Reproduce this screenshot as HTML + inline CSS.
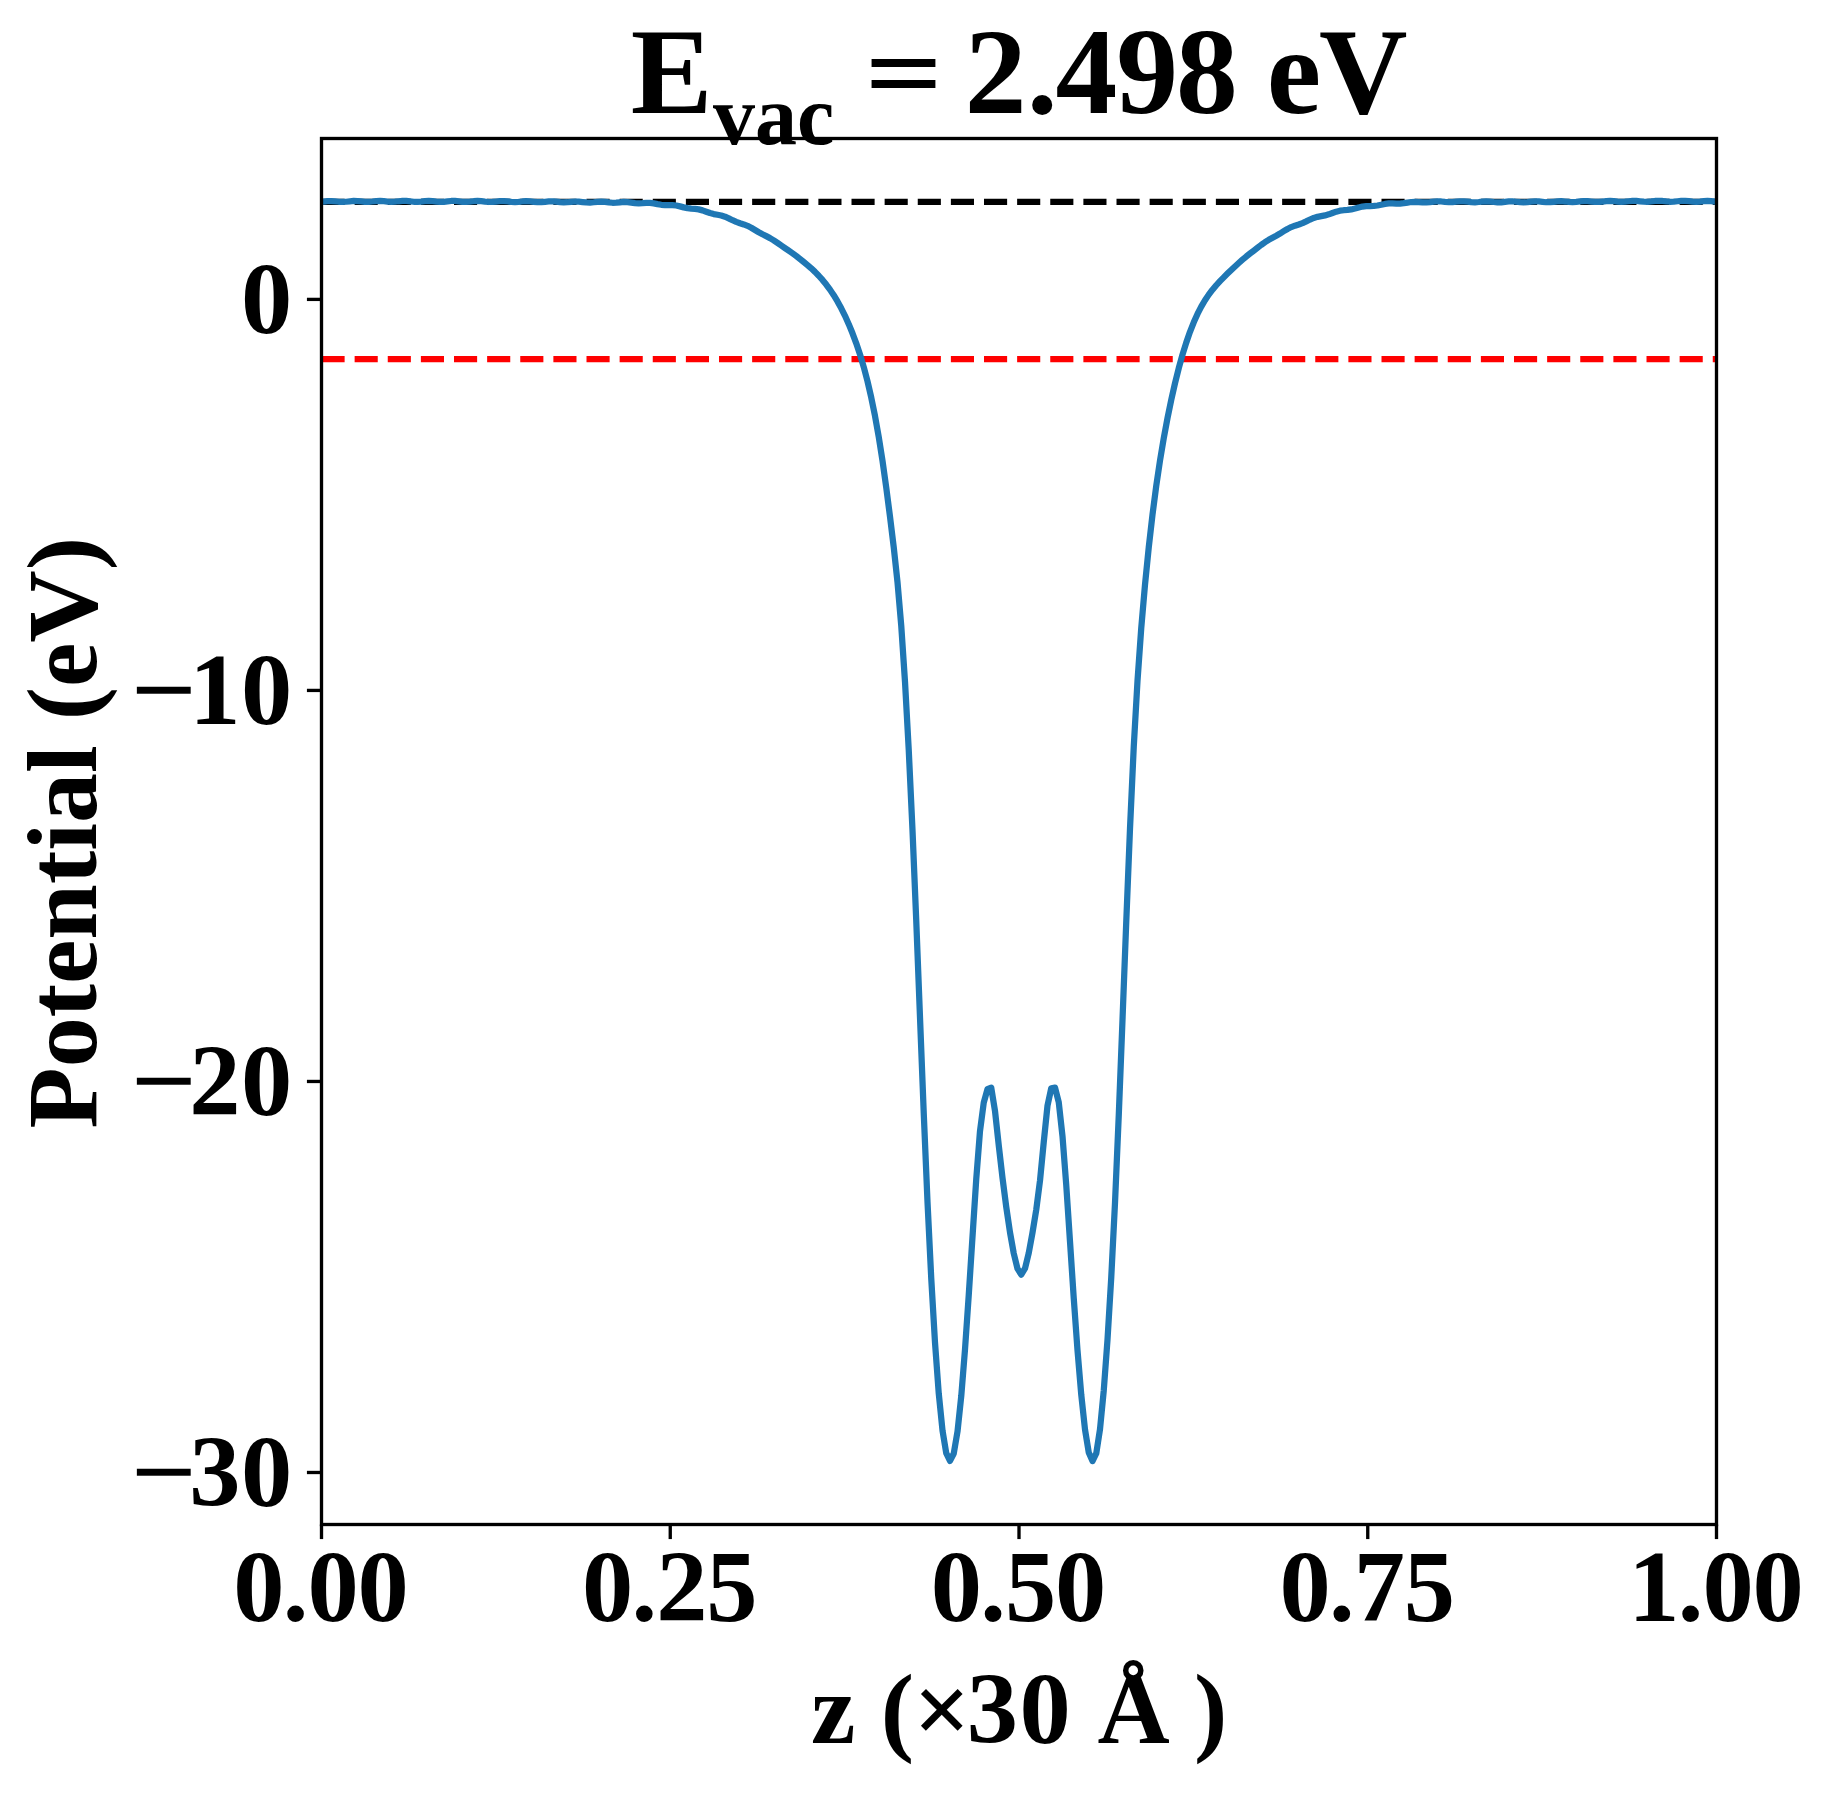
<!DOCTYPE html>
<html lang="en">
<head>
<meta charset="utf-8">
<title>Planar-averaged potential</title>
<style>
html,body{margin:0;padding:0;background:#fff;}
body{width:1833px;height:1794px;overflow:hidden;}
svg{display:block;}
text{font-family:"Liberation Serif", "DejaVu Serif", serif;font-weight:bold;fill:#000;}
</style>
</head>
<body>
<svg width="1833" height="1794" viewBox="0 0 1833 1794">
<rect x="0" y="0" width="1833" height="1794" fill="#ffffff"/>
<defs><clipPath id="ax"><rect x="321.5" y="138.5" width="1395.0" height="1386.0"/></clipPath></defs>

<g clip-path="url(#ax)" fill="none">
<line x1="321.5" y1="201.9" x2="1716.5" y2="201.9" stroke="#000" stroke-width="6.25" stroke-dasharray="23.125 10"/>
<line x1="321.5" y1="359.0" x2="1716.5" y2="359.0" stroke="#ff0000" stroke-width="6.25" stroke-dasharray="23.125 10"/>
<path d="M320.00 201.98 L323.75 201.59 L327.50 201.14 L331.25 201.02 L335.00 201.31 L338.75 201.76 L342.50 201.97 L346.25 201.75 L350.00 201.29 L353.75 200.96 L357.50 201.03 L361.25 201.44 L365.00 201.83 L368.75 201.87 L372.50 201.51 L376.25 201.05 L380.00 200.89 L383.75 201.15 L387.50 201.61 L391.25 201.87 L395.00 201.72 L398.75 201.27 L402.50 200.91 L406.25 200.95 L410.00 201.34 L413.75 201.76 L417.50 201.86 L421.25 201.54 L425.00 201.09 L428.75 200.89 L432.50 201.11 L436.25 201.57 L440.00 201.89 L443.75 201.79 L447.50 201.37 L451.25 200.99 L455.00 200.98 L458.75 201.35 L462.50 201.80 L466.25 201.95 L470.00 201.69 L473.75 201.24 L477.50 200.99 L481.25 201.18 L485.00 201.64 L488.75 202.00 L492.50 201.96 L496.25 201.57 L500.00 201.17 L503.75 201.11 L507.50 201.46 L511.25 201.93 L515.00 202.14 L518.75 201.92 L522.50 201.48 L526.25 201.21 L530.00 201.34 L533.75 201.80 L537.50 202.20 L541.25 202.22 L545.00 201.86 L548.75 201.45 L552.50 201.35 L556.25 201.66 L560.00 202.14 L563.75 202.41 L567.50 202.24 L571.25 201.82 L575.00 201.51 L578.75 201.60 L582.50 202.04 L586.25 202.47 L590.00 202.55 L593.75 202.24 L597.50 201.82 L601.25 201.67 L605.00 201.95 L608.75 202.44 L612.50 202.76 L616.25 202.67 L620.00 202.29 L623.75 201.99 L627.50 202.08 L631.25 202.57 L635.00 203.12 L638.75 203.37 L642.50 203.23 L646.25 202.96 L650.00 202.95 L653.75 203.40 L657.50 204.14 L661.25 204.78 L665.00 205.05 L668.75 205.02 L672.50 205.06 L676.25 205.50 L680.00 206.37 L683.75 207.39 L687.50 208.17 L691.25 208.59 L695.00 208.86 L698.75 209.38 L702.50 210.38 L706.25 211.73 L710.00 213.06 L713.75 214.07 L717.50 214.78 L721.25 215.54 L725.00 216.70 L728.75 218.35 L732.50 220.21 L736.25 221.90 L740.00 223.24 L743.75 224.42 L747.50 225.84 L751.25 227.76 L755.00 230.03 L758.75 232.29 L762.50 234.32 L766.25 236.17 L770.00 238.10 L773.75 240.33 L777.50 242.86 L781.25 245.53 L785.00 248.14 L788.75 250.68 L792.50 253.27 L796.25 256.02 L800.00 258.94 L803.75 261.96 L807.50 265.06 L811.25 268.35 L815.00 271.89 L818.75 275.72 L822.50 279.92 L826.25 284.53 L830.00 289.61 L833.75 295.23 L837.50 301.43 L841.25 308.29 L845.00 315.84 L848.75 324.16 L852.50 333.29 L856.25 343.32 L860.00 354.48 L863.75 367.04 L867.50 381.29 L871.25 397.51 L875.00 415.98 L878.75 436.98 L882.50 460.80 L886.25 487.56 L890.00 516.62 L893.75 547.30 L897.50 582.10 L901.25 625.73 L905.00 681.78 L908.75 750.20 L912.50 830.25 L916.25 920.89 L920.00 1017.48 L923.75 1113.34 L927.50 1201.79 L931.25 1278.48 L935.00 1342.55 L938.75 1393.42 L942.50 1430.50 L946.25 1453.21 L950.00 1460.96 L953.75 1453.50 L957.50 1431.58 L961.25 1396.18 L965.00 1349.41 L968.75 1295.01 L972.50 1236.82 L976.25 1179.16 L980.00 1131.06 L983.75 1102.56 L987.50 1089.22 L991.25 1087.63 L995.00 1110.91 L998.75 1145.45 L1002.50 1177.82 L1006.25 1207.00 L1010.00 1232.38 L1013.75 1253.38 L1017.50 1268.67 L1021.25 1274.60 L1025.00 1268.42 L1028.75 1253.02 L1032.50 1232.63 L1036.25 1209.73 L1040.00 1180.66 L1043.75 1142.14 L1047.50 1105.67 L1051.25 1088.22 L1055.00 1087.61 L1058.75 1102.23 L1062.50 1136.29 L1066.25 1185.13 L1070.00 1241.53 L1073.75 1298.29 L1077.50 1350.16 L1081.25 1394.65 L1085.00 1429.48 L1088.75 1452.40 L1092.50 1461.13 L1096.25 1453.46 L1100.00 1429.21 L1103.75 1390.58 L1107.50 1339.79 L1111.25 1277.45 L1115.00 1202.88 L1118.75 1115.71 L1122.50 1019.81 L1126.25 921.87 L1130.00 828.63 L1133.75 746.86 L1137.50 680.84 L1141.25 628.03 L1145.00 584.70 L1148.75 547.39 L1152.50 514.66 L1156.25 485.94 L1160.00 460.65 L1163.75 438.24 L1167.50 418.12 L1171.25 399.83 L1175.00 383.23 L1178.75 368.21 L1182.50 354.69 L1186.25 342.60 L1190.00 331.82 L1193.75 322.29 L1197.50 313.91 L1201.25 306.59 L1205.00 300.21 L1208.75 294.63 L1212.50 289.69 L1216.25 285.25 L1220.00 281.17 L1223.75 277.31 L1227.50 273.57 L1231.25 269.94 L1235.00 266.42 L1238.75 262.99 L1242.50 259.67 L1246.25 256.52 L1250.00 253.55 L1253.75 250.67 L1257.50 247.77 L1261.25 244.89 L1265.00 242.18 L1268.75 239.80 L1272.50 237.71 L1276.25 235.70 L1280.00 233.55 L1283.75 231.22 L1287.50 228.96 L1291.25 227.08 L1295.00 225.67 L1298.75 224.48 L1302.50 223.09 L1306.25 221.36 L1310.00 219.52 L1313.75 217.95 L1317.50 216.87 L1321.25 216.16 L1325.00 215.42 L1328.75 214.36 L1332.50 213.00 L1336.25 211.67 L1340.00 210.72 L1343.75 210.23 L1347.50 209.93 L1351.25 209.42 L1355.00 208.53 L1358.75 207.45 L1362.50 206.55 L1366.25 206.10 L1370.00 206.02 L1373.75 205.93 L1377.50 205.51 L1381.25 204.75 L1385.00 203.93 L1388.75 203.45 L1392.50 203.42 L1396.25 203.60 L1400.00 203.60 L1403.75 203.20 L1407.50 202.55 L1411.25 202.02 L1415.00 201.92 L1418.75 202.19 L1422.50 202.48 L1426.25 202.46 L1430.00 202.05 L1433.75 201.53 L1437.50 201.29 L1441.25 201.48 L1445.00 201.92 L1448.75 202.20 L1452.50 202.07 L1456.25 201.64 L1460.00 201.27 L1463.75 201.28 L1467.50 201.67 L1471.25 202.12 L1475.00 202.27 L1478.75 202.00 L1482.50 201.56 L1486.25 201.33 L1490.00 201.53 L1493.75 202.00 L1497.50 202.34 L1501.25 202.28 L1505.00 201.87 L1508.75 201.46 L1512.50 201.41 L1516.25 201.75 L1520.00 202.19 L1523.75 202.36 L1527.50 202.10 L1531.25 201.63 L1535.00 201.34 L1538.75 201.46 L1542.50 201.89 L1546.25 202.24 L1550.00 202.21 L1553.75 201.81 L1557.50 201.36 L1561.25 201.23 L1565.00 201.52 L1568.75 201.96 L1572.50 202.16 L1576.25 201.94 L1580.00 201.46 L1583.75 201.12 L1587.50 201.18 L1591.25 201.58 L1595.00 201.95 L1598.75 201.97 L1602.50 201.59 L1606.25 201.13 L1610.00 200.95 L1613.75 201.19 L1617.50 201.63 L1621.25 201.88 L1625.00 201.71 L1628.75 201.25 L1632.50 200.88 L1636.25 200.90 L1640.00 201.28 L1643.75 201.69 L1647.50 201.77 L1651.25 201.45 L1655.00 200.99 L1658.75 200.77 L1662.50 200.99 L1666.25 201.45 L1670.00 201.76 L1673.75 201.66 L1677.50 201.24 L1681.25 200.86 L1685.00 200.85 L1688.75 201.22 L1692.50 201.68 L1696.25 201.84 L1700.00 201.59 L1703.75 201.15 L1707.50 200.93 L1711.25 201.13 L1715.00 201.61 L1718.75 201.99" stroke="#1f77b4" stroke-width="6.25" stroke-linejoin="round" stroke-linecap="butt"/>
</g>
<g stroke="#000" stroke-width="3.333" fill="none">
<line x1="321.50" y1="1524.5" x2="321.50" y2="1539.08"/>
<line x1="670.25" y1="1524.5" x2="670.25" y2="1539.08"/>
<line x1="1019.00" y1="1524.5" x2="1019.00" y2="1539.08"/>
<line x1="1367.75" y1="1524.5" x2="1367.75" y2="1539.08"/>
<line x1="1716.50" y1="1524.5" x2="1716.50" y2="1539.08"/>
<line x1="306.92" y1="299.40" x2="321.5" y2="299.40"/>
<line x1="306.92" y1="690.43" x2="321.5" y2="690.43"/>
<line x1="306.92" y1="1081.46" x2="321.5" y2="1081.46"/>
<line x1="306.92" y1="1472.49" x2="321.5" y2="1472.49"/>
<rect x="321.5" y="138.5" width="1395.0" height="1386.0" stroke-linejoin="miter"/>
</g>
<text x="233.18 282.64 307.43 357.48" y="1620.6" font-size="102.5">0.00</text>
<text x="581.92 631.39 656.17 706.23" y="1620.6" font-size="102.5">0.25</text>
<text x="930.67 980.14 1004.92 1054.97" y="1620.6" font-size="102.5">0.50</text>
<text x="1279.42 1328.89 1353.67 1403.72" y="1620.6" font-size="102.5">0.75</text>
<text x="1628.17 1677.64 1702.42 1752.47" y="1620.6" font-size="102.5">1.00</text>
<text x="241.07" y="333.30" font-size="102.5">0</text>
<text y="724.33" font-size="102.5"><tspan font-family="'DejaVu Serif', 'Liberation Serif', serif" font-weight="normal" font-size="86" x="127.69" dy="-7.0">−</tspan><tspan x="189.28 241.07" dy="7.0">10</tspan></text>
<text y="1115.36" font-size="102.5"><tspan font-family="'DejaVu Serif', 'Liberation Serif', serif" font-weight="normal" font-size="86" x="127.69" dy="-7.0">−</tspan><tspan x="189.28 241.07" dy="7.0">20</tspan></text>
<text y="1506.39" font-size="102.5"><tspan font-family="'DejaVu Serif', 'Liberation Serif', serif" font-weight="normal" font-size="86" x="127.69" dy="-7.0">−</tspan><tspan x="189.28 241.07" dy="7.0">30</tspan></text>
<text y="1742.8" font-size="100.0"><tspan x="810.98 856.00 880.81">z (</tspan><tspan x="913.55">×</tspan><tspan font-size="102.5" x="966.75 1019.53">30</tspan><tspan x="1072.00 1097.57"> Å</tspan><tspan x="1171.00 1194.09"> )</tspan></text>
<text transform="translate(95.9 832.7) rotate(-90)" font-size="100.0" text-anchor="middle">Potential (eV)</text>
<text y="113.1" font-size="122.5"><tspan x="630.79">E</tspan><tspan x="713" dy="30.9" font-size="84">vac</tspan><tspan font-family="'DejaVu Serif', 'Liberation Serif', serif" font-weight="normal" font-size="102" x="836.00 860.82" dy="-38.43"> =</tspan><tspan font-size="123.6" x="940.00 964.76 1026.65 1055.45 1116.24 1176.05" dy="7.53"> 2.498</tspan><tspan x="1240.00 1266.81 1319.12"> eV</tspan></text>
</svg>
</body>
</html>
